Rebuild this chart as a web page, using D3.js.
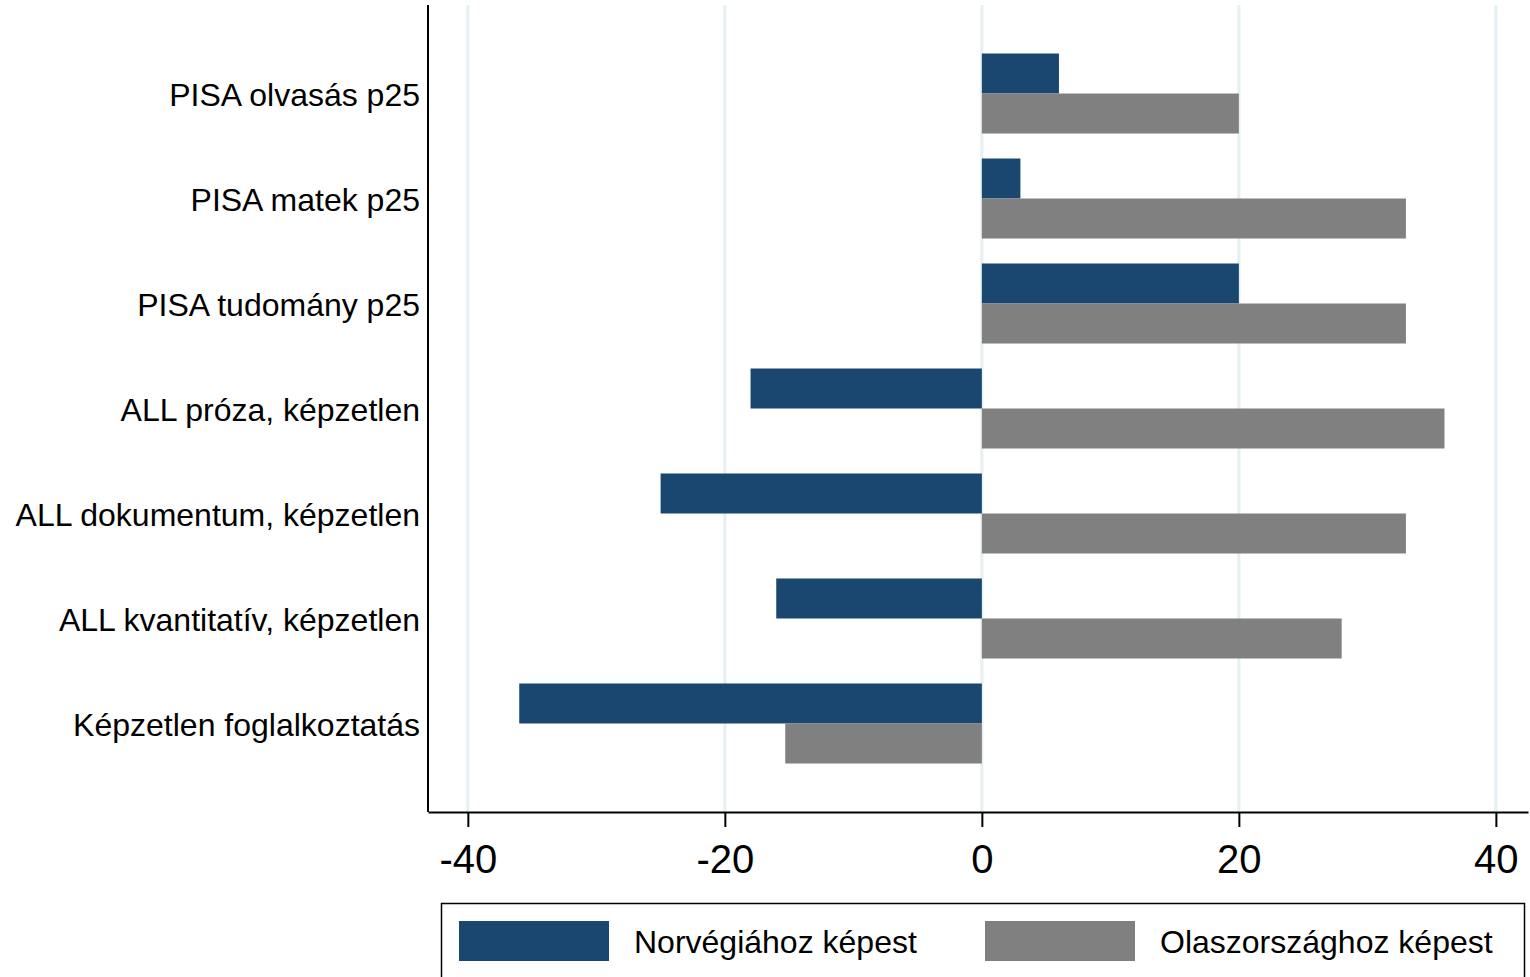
<!DOCTYPE html>
<html><head><meta charset="utf-8">
<script src="https://cdn.jsdelivr.net/npm/d3@7"></script>
<style>body{margin:0;background:#fff;}svg{display:block;font-family:"Liberation Sans",Arial,sans-serif;}</style>
</head><body>
<script>
const categories = ["PISA olvasás p25","PISA matek p25","PISA tudomány p25","ALL próza, képzetlen","ALL dokumentum, képzetlen","ALL kvantitatív, képzetlen","Képzetlen foglalkoztatás"];
const norway = [6, 3, 20, -18, -25, -16, -36];
const italy = [20, 33, 33, 36, 33, 28, -15.3];
const seriesNames = ["Norvégiához képest","Olaszországhoz képest"];
const seriesColors = ["#1a476f","#808080"];
const xTicks = [-40,-20,0,20,40];

(function(){
const W=1530,H=977;
const svg=d3.select("body").append("svg").attr("width",W).attr("height",H);
const pL=428,pR=1528,pT=5,pB=812;
const x=d3.scaleLinear().domain([-43.1,42.5]).range([pL,pR]);
const y=d3.scaleBand().domain(categories).range([pT,pB]).paddingInner(0.238).paddingOuter(0.462);
const sub=d3.scaleBand().domain([0,1]).range([0,y.bandwidth()]);

// gridlines
svg.append("g").selectAll("line").data(xTicks).join("line")
  .attr("x1",d=>x(d)).attr("x2",d=>x(d)).attr("y1",pT).attr("y2",pB)
  .attr("stroke","#e6eff1").attr("stroke-width",3);

const series=[norway,italy];
series.forEach((vals,si)=>{
  svg.append("g").selectAll("rect").data(vals).join("rect")
    .attr("x",d=>x(Math.min(0,d))).attr("width",d=>Math.abs(x(d)-x(0)))
    .attr("y",(d,i)=>y(categories[i])+sub(si)).attr("height",sub.bandwidth())
    .attr("fill",seriesColors[si]);
});

// axes
const xAxis=d3.axisBottom(x).tickValues(xTicks).tickSizeInner(15).tickSizeOuter(0).tickPadding(18).tickFormat(d3.format("d"));
const gx=svg.append("g").attr("transform",`translate(0,${pB})`).call(xAxis);
gx.select(".domain").attr("stroke","#000").attr("stroke-width",2);
gx.selectAll(".tick line").attr("stroke","#000").attr("stroke-width",2);
gx.selectAll(".tick text").attr("font-size",40).attr("fill","#000").attr("font-family","Liberation Sans, Arial, sans-serif").text(d=>d<0?"-"+Math.abs(d):d);

const yAxis=d3.axisLeft(y).tickSize(0).tickPadding(8);
const gy=svg.append("g").attr("transform",`translate(${pL},0)`).call(yAxis);
gy.select(".domain").attr("stroke","#000").attr("stroke-width",2).attr("d",`M0,${pT}V${pB}`);
gy.selectAll(".tick text").attr("font-size",32).attr("fill","#000").attr("dy","0.4em").attr("font-family","Liberation Sans, Arial, sans-serif");

// legend
const lg=svg.append("g");
lg.append("rect").attr("x",441.5).attr("y",903.5).attr("width",1083).attr("height",100).attr("fill","#fff").attr("stroke","#000").attr("stroke-width",1.5);
const lx=[459,985];
seriesNames.forEach((n,i)=>{
  lg.append("rect").attr("x",lx[i]).attr("y",921).attr("width",150).attr("height",40).attr("fill",seriesColors[i]);
  lg.append("text").attr("x",lx[i]+175).attr("y",942).attr("dy","0.35em").attr("font-size",32).attr("fill","#000").text(n);
});
})();
</script>
</body></html>
